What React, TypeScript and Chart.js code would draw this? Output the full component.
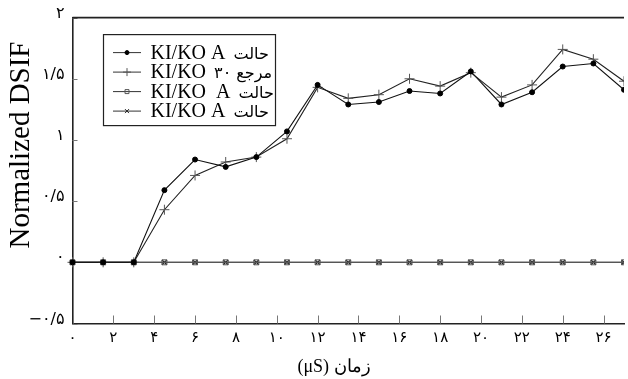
import React, { useEffect, useRef } from 'react';
import { Chart, registerables } from 'chart.js';
import { drawPoint } from 'chart.js/helpers';

Chart.register(...registerables);

// ---- data ----
const timeValues = [0, 1.5, 3, 4.5, 6, 7.5, 9, 10.5, 12, 13.5, 15, 16.5, 18, 19.5, 21, 22.5, 24, 25.5, 27];
const caseADots = [0, 0, 0, 0.59, 0.84, 0.78, 0.86, 1.07, 1.45, 1.29, 1.31, 1.4, 1.38, 1.56, 1.29, 1.39, 1.6, 1.625, 1.41];
const reference30 = [0, 0, 0, 0.43, 0.71, 0.82, 0.86, 1.01, 1.43, 1.34, 1.37, 1.5, 1.44, 1.55, 1.35, 1.45, 1.74, 1.66, 1.48];
const caseASquares = [0, 0, 0, 0, 0, 0, 0, 0, 0, 0, 0, 0, 0, 0, 0, 0, 0, 0, 0];
const caseACrosses = [0, 0, 0, 0, 0, 0, 0, 0, 0, 0, 0, 0, 0, 0, 0, 0, 0, 0, 0];
const seriesLabels = ['KI/KO A حالت', 'KI/KO ۳۰ مرجع', 'KI/KO  A حالت', 'KI/KO A حالت'];

const xTickValues = [0, 2, 4, 6, 8, 10, 12, 14, 16, 18, 20, 22, 24, 26];
const xTickLabels = ['۰', '۲', '۴', '۶', '۸', '۱۰', '۱۲', '۱۴', '۱۶', '۱۸', '۲۰', '۲۲', '۲۴', '۲۶'];
const yTickValues = [-0.5, 0, 0.5, 1, 1.5, 2];
const yTickLabels = ['−۰/۵', '۰', '۰/۵', '۱', '۱/۵', '۲'];
const xTitle = '(μS) زمان';
const yTitle = 'Normalized DSIF';

const toPoints = (vals: number[]) => timeValues.map((t, i) => ({ x: t, y: vals[i] }));

const lookup = (values: number[], labels: string[]) => (v: any) => {
  const n = Math.round(Number(v) * 1000) / 1000;
  const i = values.indexOf(n);
  return i >= 0 ? labels[i] : '';
};

const framePlugin = {
  id: 'frame',
  beforeDatasetsDraw(chart: any) {
    const { ctx, chartArea, scales } = chart;
    ctx.save();
    ctx.strokeStyle = '#777';
    ctx.lineWidth = 1;
    scales.x.ticks.forEach((t: any) => {
      const px = Math.round(scales.x.getPixelForValue(t.value)) + 0.5;
      ctx.beginPath();
      ctx.moveTo(px, chartArea.bottom);
      ctx.lineTo(px, chartArea.bottom - 8);
      ctx.stroke();
    });
    scales.y.ticks.forEach((t: any) => {
      const py = Math.round(scales.y.getPixelForValue(t.value)) + 0.5;
      ctx.beginPath();
      ctx.moveTo(chartArea.left, py);
      ctx.lineTo(chartArea.left + 5, py);
      ctx.stroke();
    });
    ctx.strokeStyle = '#222';
    ctx.lineWidth = 1.6;
    ctx.beginPath();
    ctx.moveTo(chartArea.left, chartArea.top);
    ctx.lineTo(chartArea.right, chartArea.top);
    ctx.stroke();
    ctx.restore();
  },
};

const legendPlugin = {
  id: 'insetLegend',
  afterDraw(chart: any) {
    const { ctx, chartArea } = chart;
    const bx = chartArea.left + 31;
    const by = chartArea.top + 17;
    const bw = 172;
    const bh = 91;
    ctx.save();
    ctx.fillStyle = '#fff';
    ctx.fillRect(bx, by, bw, bh);
    ctx.strokeStyle = '#222';
    ctx.lineWidth = 1.2;
    ctx.strokeRect(bx, by, bw, bh);
    chart.data.datasets.forEach((ds: any, i: number) => {
      const y = by + 18 + i * 19.5;
      ctx.strokeStyle = '#333';
      ctx.lineWidth = 1;
      ctx.beginPath();
      ctx.moveTo(bx + 9.5, y);
      ctx.lineTo(bx + 37.5, y);
      ctx.stroke();
      ctx.strokeStyle = ds.pointBorderColor;
      ctx.fillStyle = ds.pointBackgroundColor;
      ctx.lineWidth = 1;
      drawPoint(ctx, { pointStyle: ds.pointStyle, radius: ds.pointRadius * 0.8, borderWidth: 1, rotation: 0 } as any, bx + 23.5, y);
      // split the label into its Latin run and its Persian run
      const label: string = ds.label;
      const k = label.search(/[\u0600-\u06FF]/);
      const latin = k >= 0 ? label.slice(0, k) : label;
      const persian = k >= 0 ? label.slice(k) : '';
      ctx.fillStyle = '#000';
      ctx.textBaseline = 'middle';
      ctx.textAlign = 'left';
      ctx.font = '20px "Liberation Serif"';
      ctx.fillText(latin, bx + 47, y + 1);
      const w = ctx.measureText(latin).width;
      ctx.font = '16px "DejaVu Sans"';
      ctx.fillText(persian, bx + 47 + w + 3, y + 2);
    });
    ctx.restore();
  },
};

const titlesPlugin = {
  id: 'titles',
  afterDraw(chart: any) {
    const { ctx } = chart;
    ctx.save();
    ctx.fillStyle = '#000';
    ctx.textAlign = 'center';
    ctx.textBaseline = 'middle';
    ctx.font = '18px "Liberation Serif"';
    ctx.fillText(xTitle, 334, 367);
    ctx.translate(21, 145);
    ctx.rotate(-Math.PI / 2);
    ctx.font = '29px "Liberation Serif"';
    ctx.fillText(yTitle, 0, 0);
    ctx.restore();
  },
};

const noClip = { left: 8, top: 8, right: 0, bottom: 8 };

export default function App() {
  const ref = useRef<HTMLCanvasElement>(null);
  useEffect(() => {
    const chart = new Chart(ref.current as HTMLCanvasElement, {
      type: 'line',
      data: {
        datasets: [
          {
            label: seriesLabels[0],
            data: toPoints(caseADots),
            borderColor: '#111',
            borderWidth: 1.1,
            pointStyle: 'circle',
            pointRadius: 2.5,
            pointBackgroundColor: '#000',
            pointBorderColor: '#000',
            pointBorderWidth: 1,
            clip: noClip,
          },
          {
            label: seriesLabels[1],
            data: toPoints(reference30),
            borderColor: '#222',
            borderWidth: 1.1,
            pointStyle: 'cross',
            pointRadius: 5,
            pointBackgroundColor: 'rgba(0,0,0,0)',
            pointBorderColor: '#555',
            pointBorderWidth: 1,
            clip: noClip,
          },
          {
            label: seriesLabels[2],
            data: toPoints(caseASquares),
            borderColor: '#555',
            borderWidth: 1.2,
            pointStyle: 'rect',
            pointRadius: 3.5,
            pointBackgroundColor: 'rgba(0,0,0,0)',
            pointBorderColor: '#555',
            pointBorderWidth: 1,
            clip: noClip,
          },
          {
            label: seriesLabels[3],
            data: toPoints(caseACrosses),
            borderColor: '#444',
            borderWidth: 1.2,
            pointStyle: 'crossRot',
            pointRadius: 3.5,
            pointBackgroundColor: 'rgba(0,0,0,0)',
            pointBorderColor: '#222',
            pointBorderWidth: 1.2,
            clip: noClip,
          },
        ],
      },
      options: {
        responsive: false,
        animation: false,
        devicePixelRatio: 1,
        layout: { padding: { left: 0, top: 8.5, right: 0, bottom: 0 } },
        plugins: { legend: { display: false }, tooltip: { enabled: false } },
        scales: {
          x: {
            type: 'linear',
            min: 0,
            max: 27,
            afterFit: (s: any) => { s.height = 55.5; },
            grid: { display: false, drawTicks: false },
            border: { display: true, color: '#222', width: 1.6 },
            ticks: {
              stepSize: 2,
              includeBounds: false,
              autoSkip: false,
              maxRotation: 0,
              padding: 6,
              color: '#000',
              font: { family: "'DejaVu Sans'", size: 15 },
              callback: lookup(xTickValues, xTickLabels),
            },
          },
          y: {
            type: 'linear',
            min: -0.5,
            max: 2,
            afterFit: (s: any) => { s.width = 72.5; },
            grid: { display: false, drawTicks: false },
            border: { display: true, color: '#222', width: 1.6 },
            ticks: {
              stepSize: 0.5,
              padding: 8,
              labelOffset: -4,
              color: '#000',
              font: { family: "'DejaVu Sans'", size: 16 },
              callback: lookup(yTickValues, yTickLabels),
            },
          },
        },
      },
      plugins: [framePlugin, legendPlugin, titlesPlugin],
    } as any);
    return () => chart.destroy();
  }, []);
  return (
    <div style={{ position: 'fixed', left: 0, top: 0, width: 628, height: 379, overflow: 'hidden', background: '#fff' }}>
      <canvas ref={ref} width={630} height={379} style={{ display: 'block' }} />
    </div>
  );
}
